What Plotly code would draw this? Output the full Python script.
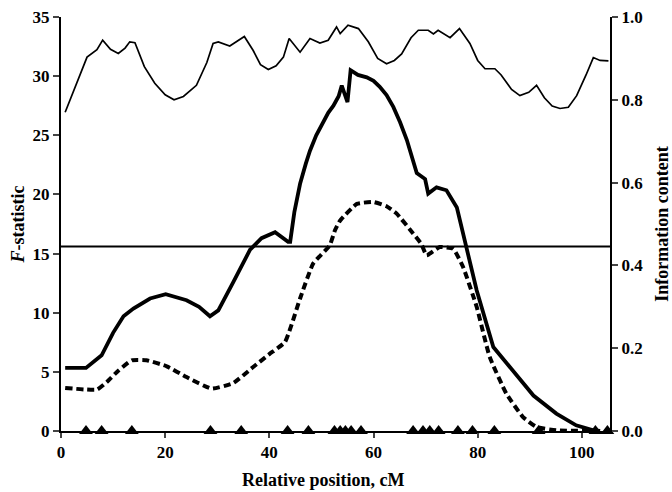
import plotly.graph_objects as go

# ---- data ----
info_x = [0.8, 5.0, 6.9, 8.0, 9.5, 11.0, 12.3, 13.2, 14.2, 16.0, 18.0, 20.0, 21.7, 23.5, 26.0, 28.0,
          29.2, 30.2, 32.4, 35.2, 36.9, 38.3, 39.8, 41.3, 42.7, 43.8, 45.9, 47.8, 49.7, 51.3, 52.9,
          53.6, 55.1, 57.1, 59.0, 60.8, 62.5, 64.0, 65.4, 67.2, 68.6, 70.5, 71.5, 72.4, 74.7, 76.5,
          78.5, 80.0, 81.4, 83.3, 84.5, 86.5, 88.1, 89.8, 91.3, 92.8, 94.3, 95.8, 97.4, 99.0, 100.8,
          102.2, 103.5, 105.1]
info_y = [0.77, 0.903, 0.921, 0.944, 0.922, 0.912, 0.925, 0.94, 0.938, 0.88, 0.84, 0.812, 0.80, 0.808,
          0.835, 0.89, 0.936, 0.94, 0.93, 0.953, 0.919, 0.885, 0.873, 0.882, 0.903, 0.948, 0.915, 0.948,
          0.937, 0.944, 0.976, 0.96, 0.98, 0.972, 0.94, 0.90, 0.887, 0.895, 0.911, 0.95, 0.968, 0.968,
          0.959, 0.968, 0.95, 0.972, 0.936, 0.895, 0.875, 0.875, 0.86, 0.825, 0.81, 0.818, 0.835, 0.805,
          0.785, 0.779, 0.782, 0.81, 0.86, 0.902, 0.895, 0.894]

fsolid_x = [0.8, 4.8, 7.8, 10.0, 12.0, 13.9, 17.1, 20.1, 24.1, 26.5, 28.6, 30.2, 33.1, 36.3, 38.5,
            41.1, 43.6, 44.0, 44.8, 45.9, 47.0, 47.8, 49.0, 50.3, 51.3, 52.3, 53.3, 53.9, 55.0, 55.6,
            57.0, 58.7, 60.0, 61.2, 62.5, 63.8, 65.1, 66.4, 67.4, 68.3, 69.9, 70.5, 72.1, 74.0, 76.0,
            77.5, 79.8, 83.0, 86.2, 90.7, 95.1, 98.9, 102.2, 103.5]
fsolid_y = [5.33, 5.33, 6.4, 8.3, 9.7, 10.35, 11.2, 11.56, 11.05, 10.5, 9.7, 10.2, 12.6, 15.33, 16.3,
            16.8, 16.0, 16.0, 18.5, 20.9, 22.6, 23.7, 25.0, 26.1, 26.9, 27.5, 28.3, 29.2, 27.8, 30.5,
            30.1, 29.9, 29.6, 29.1, 28.4, 27.4, 26.1, 24.6, 23.2, 21.8, 21.3, 20.07, 20.6, 20.35, 18.9,
            16.1, 11.9, 7.1, 5.4, 3.0, 1.47, 0.48, 0.06, 0.0]

fdash_x = [0.8, 6.9, 8.8, 11.0, 13.6, 16.4, 20.3, 24.1, 28.9, 33.1, 36.9, 40.0, 43.0, 45.9, 48.4,
           51.6, 52.6, 53.6, 56.8, 60.0, 62.5, 64.4, 67.6, 69.2, 70.2, 72.7, 75.3, 77.2, 79.8, 82.3,
           85.5, 88.7, 91.3, 95.1, 103.5]
fdash_y = [3.64, 3.5, 4.14, 5.1, 5.98, 5.98, 5.47, 4.56, 3.58, 4.06, 5.41, 6.5, 7.52, 11.2, 14.15,
           15.7, 16.97, 17.8, 19.2, 19.36, 19.0, 18.4, 16.7, 15.8, 14.85, 15.55, 15.4, 13.86, 10.5, 6.26,
           3.16, 1.18, 0.34, 0.06, 0.0]

marker_x = [4.8, 7.8, 13.6, 28.7, 34.6, 43.5, 47.5, 52.5, 53.6, 54.6, 55.7, 57.6, 67.6, 69.5, 70.8,
            72.5, 76.2, 79.0, 83.2, 91.7, 102.6, 104.9]
threshold = 15.6

x_ticks = [0, 20, 40, 60, 80, 100]
y_ticks = [0, 5, 10, 15, 20, 25, 30, 35]
y2_ticks = [0.0, 0.2, 0.4, 0.6, 0.8, 1.0]

x_title = "Relative position, cM"
y_title = "<i>F</i>-statistic"
y2_title = "Information content"

XMAX = 105.4
FONT = "Liberation Serif"

fig = go.Figure()
fig.add_trace(go.Scatter(x=info_x, y=info_y, mode="lines", yaxis="y2",
                         line=dict(color="black", width=1.7), showlegend=False))
fig.add_trace(go.Scatter(x=[0, XMAX], y=[threshold, threshold], mode="lines",
                         line=dict(color="black", width=2), showlegend=False))
fig.add_trace(go.Scatter(x=fdash_x, y=fdash_y, mode="lines",
                         line=dict(color="black", width=4, dash="7px,4px", shape="spline", smoothing=0.4),
                         showlegend=False))
fig.add_trace(go.Scatter(x=fsolid_x, y=fsolid_y, mode="lines",
                         line=dict(color="black", width=3.8), showlegend=False))
fig.add_trace(go.Scatter(x=marker_x, y=[0] * len(marker_x), mode="markers", cliponaxis=False,
                         marker=dict(symbol="triangle-up", size=12, color="black"), showlegend=False))

tick_font = dict(family=FONT, size=17)
title_font = dict(family=FONT, size=18, weight="bold")

fig.update_layout(
    width=672, height=492,
    margin=dict(l=61, r=62, t=17, b=61),
    paper_bgcolor="white", plot_bgcolor="white",
    font=dict(family=FONT, color="black", size=17),
    xaxis=dict(range=[0, XMAX], tickvals=x_ticks, ticktext=[f"<b>{v}</b>" for v in x_ticks],
               ticks="outside", ticklen=5, tickwidth=1.5, automargin=False,
               showline=True, linecolor="black", linewidth=2, showgrid=False, zeroline=False,
               tickfont=tick_font),
    yaxis=dict(range=[0, 35], tickvals=y_ticks, ticktext=[f"<b>{v}</b>" for v in y_ticks],
               ticks="outside", ticklen=6, tickwidth=1.5, automargin=False,
               showline=True, linecolor="black", linewidth=2, showgrid=False, zeroline=False,
               tickfont=tick_font,
               title=dict(text=f"<b>{y_title}</b>", font=title_font, standoff=3)),
    yaxis2=dict(range=[0, 1], tickvals=y2_ticks, ticktext=[f"<b>{v:.1f}</b>" for v in y2_ticks],
                overlaying="y", side="right", automargin=False,
                ticks="outside", ticklen=6, tickwidth=1.5,
                showline=True, linecolor="black", linewidth=2, showgrid=False, zeroline=False,
                tickfont=tick_font,
                title=dict(text=f"<b>{y2_title}</b>", font=title_font, standoff=20)),
    annotations=[dict(text=f"<b>{x_title}</b>", xref="paper", yref="paper", x=0.477, y=-0.119,
                      xanchor="center", yanchor="middle", showarrow=False, font=title_font)],
)

fig.write_html("out.html")
